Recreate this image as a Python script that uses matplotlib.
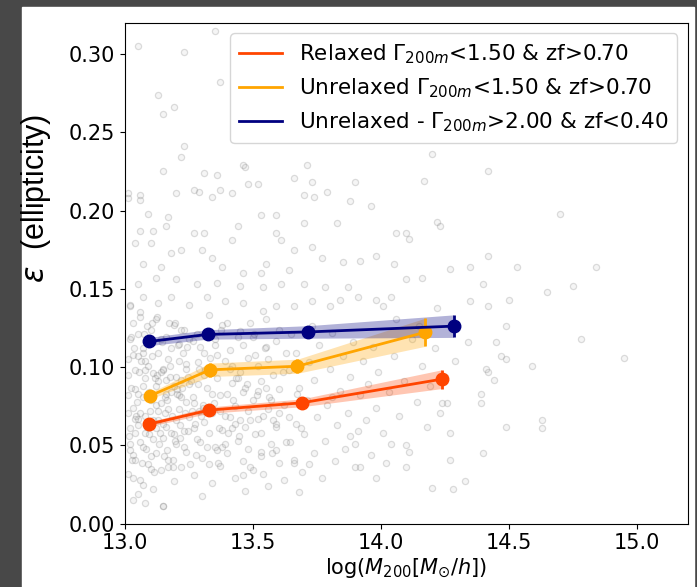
import matplotlib
matplotlib.use('Agg')
import matplotlib.pyplot as plt
import matplotlib.patches
import numpy as np

# binned medians, log(M200) vs ellipticity
relaxed_x = [13.093, 13.330, 13.690, 14.237]
relaxed_y = [0.0636, 0.0726, 0.0772, 0.0923]
relaxed_err = [0.0015, 0.002, 0.0025, 0.006]

unrel_x = [13.098, 13.332, 13.674, 14.173]
unrel_y = [0.0817, 0.0983, 0.1006, 0.1223]
unrel_err = [0.002, 0.0043, 0.0045, 0.009]

unrel2_x = [13.095, 13.323, 13.716, 14.284]
unrel2_y = [0.1164, 0.1209, 0.1225, 0.1262]
unrel2_err = [0.0026, 0.003, 0.004, 0.0072]

labels = [r'Relaxed $\Gamma_{200m}$<1.50 & zf>0.70',
          r'Unrelaxed $\Gamma_{200m}$<1.50 & zf>0.70',
          r'Unrelaxed - $\Gamma_{200m}$>2.00 & zf<0.40']

# background halos (approximate)
halo_x = [13.01, 13.02, 13.03, 13.01, 13.02, 13.04, 13.05, 13.04, 13.05, 13.03,
          13.06, 13.07, 13.06, 13.08, 13.07, 13.06, 13.09, 13.08, 13.10, 13.09,
          13.10, 13.11, 13.12, 13.11, 13.12, 13.13, 13.12, 13.14, 13.15, 13.14,
          13.15, 13.16, 13.17, 13.16, 13.18, 13.17, 13.19, 13.19, 13.20, 13.21,
          13.20, 13.21, 13.22, 13.23, 13.22, 13.24, 13.23, 13.24, 13.25, 13.25,
          13.02, 13.03, 13.05, 13.08, 13.09, 13.11, 13.13, 13.14, 13.16, 13.18,
          13.01, 13.04, 13.06, 13.07, 13.10, 13.13, 13.15, 13.18, 13.20, 13.22,
          13.03, 13.05, 13.08, 13.12, 13.17, 13.19, 13.21, 13.24, 13.02, 13.07,
          13.03, 13.08, 13.15, 13.05,
          13.27, 13.28, 13.27, 13.29, 13.28, 13.30, 13.31, 13.32, 13.31, 13.33,
          13.34, 13.35, 13.34, 13.36, 13.35, 13.37, 13.38, 13.37, 13.39, 13.38,
          13.40, 13.41, 13.42, 13.41, 13.43, 13.44, 13.43, 13.45, 13.44, 13.46,
          13.47, 13.46, 13.48, 13.49, 13.50, 13.51, 13.50, 13.52, 13.53, 13.54,
          13.53, 13.55, 13.56, 13.57, 13.56, 13.58, 13.59, 13.60, 13.59, 13.60,
          13.29, 13.33, 13.36, 13.40, 13.45, 13.48, 13.52, 13.55, 13.30, 13.47,
          13.62, 13.63, 13.62, 13.64, 13.65, 13.66, 13.67, 13.68, 13.67, 13.69,
          13.70, 13.71, 13.72, 13.73, 13.74, 13.75, 13.74, 13.76, 13.77, 13.78,
          13.79, 13.80, 13.81, 13.82, 13.83, 13.84, 13.85, 13.86, 13.87, 13.88,
          13.89, 13.90, 13.91, 13.92, 13.93, 13.94, 13.95, 13.96, 13.97, 13.98,
          13.99, 13.64, 13.72, 13.81, 13.88,
          14.01, 14.03, 14.05, 14.07, 14.09, 14.11, 14.12, 14.14, 14.16, 14.18,
          14.19, 14.21, 14.23, 14.25, 14.27, 14.29, 14.06, 14.15, 14.22, 14.02,
          14.70, 14.84, 14.75, 14.65, 14.78, 14.95, 14.59, 14.63, 14.63, 14.49,
          14.53, 14.42, 14.42, 14.40, 14.49, 14.33, 14.28, 14.20, 13.68, 13.15,
          14.27, 14.20, 14.17, 14.45, 14.47, 14.41, 14.42, 14.44, 14.39, 14.39,
          14.34, 14.35, 14.50, 14.42, 14.49, 14.24, 14.26, 14.10, 13.98, 13.92,
          13.90, 14.04, 14.10, 14.23, 14.22, 14.27, 14.35, 14.40, 14.16, 14.10,
          14.05, 14.06, 14.10, 14.11, 13.96, 13.88, 13.90, 13.79, 13.71, 13.66,
          13.73, 13.74, 13.70, 13.83, 13.70, 13.59, 13.61, 13.73, 13.66, 13.53,
          13.59, 13.52, 13.48, 13.46, 13.42, 13.37, 13.36, 13.22, 13.15, 13.20,
          13.29, 13.34, 13.06, 13.01, 13.09, 13.17, 13.16, 13.06, 13.11, 13.27,
          13.31, 13.44, 13.42, 13.30, 13.22, 13.18, 13.04, 13.10, 13.07, 13.14,
          13.34, 13.38, 13.46, 13.53, 13.55, 13.64, 13.77, 13.85, 13.92, 13.98,
          13.87, 13.78, 13.70, 13.61, 13.54, 13.45, 13.36, 13.28, 13.20, 13.12,
          13.05, 13.98, 14.04, 14.01, 13.91, 13.84, 13.80, 13.73, 13.66, 13.59,
          13.54, 13.46, 13.39, 13.32, 13.25, 13.18, 13.13, 13.07, 13.02,
          13.05, 13.23, 13.35, 13.13, 13.19, 13.37, 13.47, 13.23, 13.06, 13.01,
          13.31, 13.27, 13.15,
          13.015, 13.025, 13.035, 13.045, 13.055, 13.065, 13.075, 13.085, 13.095, 13.105,
          13.115, 13.125, 13.135, 13.145, 13.155, 13.165, 13.175, 13.185, 13.195, 13.205,
          13.215, 13.225, 13.235, 13.245, 13.255, 13.265, 13.275, 13.285, 13.295, 13.305,
          13.012, 13.028, 13.041, 13.057, 13.069, 13.083, 13.097, 13.108, 13.121, 13.139,
          13.152, 13.163, 13.177, 13.191, 13.204, 13.218, 13.229, 13.242, 13.258, 13.271,
          13.284, 13.297, 13.031, 13.064, 13.093, 13.126, 13.158, 13.187, 13.213, 13.246,
          13.31, 13.33, 13.35, 13.37, 13.39, 13.41, 13.43, 13.45, 13.47, 13.49,
          13.51, 13.53, 13.55, 13.57, 13.59, 13.32, 13.34, 13.36, 13.38, 13.40,
          13.42, 13.44, 13.46, 13.48, 13.50, 13.52, 13.54, 13.56, 13.58, 13.60,
          13.018, 13.047, 13.072, 13.101, 13.128, 13.149, 13.171, 13.196, 13.223, 13.251,
          13.279, 13.306, 13.334, 13.362, 13.391, 13.419, 13.447, 13.476, 13.503, 13.532,
          13.561, 13.589, 13.618, 13.646, 13.674,
          13.022, 13.051, 13.079, 13.104, 13.133, 13.161, 13.189, 13.214, 13.238, 13.266,
          13.293, 13.321, 13.349, 13.377, 13.404, 13.432, 13.461, 13.489, 13.517, 13.546,
          13.574, 13.603, 13.631, 13.659, 13.688,
          13.011, 13.039, 13.088, 13.117, 13.168, 13.209, 13.262, 13.313, 13.366, 13.424]
halo_y = [0.032, 0.051, 0.074, 0.095, 0.118, 0.041, 0.063, 0.086, 0.107, 0.128,
          0.028, 0.049, 0.071, 0.093, 0.112, 0.135, 0.038, 0.058, 0.079, 0.101,
          0.124, 0.022, 0.045, 0.066, 0.088, 0.109, 0.131, 0.034, 0.055, 0.077,
          0.098, 0.119, 0.041, 0.062, 0.084, 0.105, 0.127, 0.027, 0.051, 0.073,
          0.094, 0.115, 0.036, 0.059, 0.081, 0.102, 0.124, 0.046, 0.068, 0.089,
          0.061, 0.108, 0.083, 0.069, 0.118, 0.054, 0.072, 0.097, 0.083, 0.058,
          0.082, 0.098, 0.052, 0.081, 0.043, 0.091, 0.064, 0.112, 0.066, 0.092,
          0.044, 0.121, 0.104, 0.076, 0.073, 0.088, 0.104, 0.078, 0.140, 0.025,
          0.015, 0.013, 0.011, 0.019,
          0.031, 0.054, 0.077, 0.099, 0.121, 0.042, 0.065, 0.087, 0.109, 0.133,
          0.026, 0.049, 0.071, 0.093, 0.114, 0.037, 0.060, 0.082, 0.104, 0.127,
          0.045, 0.068, 0.090, 0.111, 0.029, 0.053, 0.075, 0.097, 0.119, 0.040,
          0.062, 0.084, 0.106, 0.128, 0.034, 0.057, 0.079, 0.101, 0.046, 0.069,
          0.091, 0.113, 0.024, 0.051, 0.073, 0.095, 0.117, 0.039, 0.062, 0.086,
          0.072, 0.058, 0.047, 0.083, 0.066, 0.048, 0.067, 0.087, 0.018, 0.021,
          0.028, 0.052, 0.076, 0.098, 0.121, 0.041, 0.064, 0.087, 0.109, 0.033,
          0.057, 0.079, 0.103, 0.126, 0.045, 0.068, 0.092, 0.114, 0.029, 0.053,
          0.076, 0.099, 0.122, 0.040, 0.063, 0.085, 0.107, 0.048, 0.071, 0.094,
          0.116, 0.036, 0.059, 0.082, 0.104, 0.066, 0.089, 0.044, 0.113, 0.074,
          0.097, 0.068, 0.038, 0.081, 0.056,
          0.058, 0.084, 0.107, 0.069, 0.091, 0.046, 0.118, 0.078, 0.101, 0.062,
          0.088, 0.112, 0.071, 0.094, 0.058, 0.104, 0.131, 0.126, 0.138, 0.039,
          0.198, 0.164, 0.152, 0.148, 0.118, 0.106, 0.101, 0.066, 0.061, 0.126,
          0.164, 0.225, 0.171, 0.045, 0.062, 0.027, 0.022, 0.023, 0.020, 0.011,
          0.041, 0.236, 0.219, 0.116, 0.107, 0.099, 0.097, 0.092, 0.077, 0.083,
          0.116, 0.142, 0.143, 0.139, 0.105, 0.077, 0.077, 0.036, 0.029, 0.036,
          0.051, 0.051, 0.050, 0.190, 0.193, 0.163, 0.164, 0.153, 0.157, 0.156,
          0.166, 0.186, 0.186, 0.182, 0.203, 0.206, 0.218, 0.212, 0.229, 0.221,
          0.218, 0.209, 0.210, 0.192, 0.192, 0.186, 0.181, 0.177, 0.175, 0.197,
          0.197, 0.217, 0.217, 0.229, 0.211, 0.213, 0.223, 0.234, 0.225, 0.211,
          0.212, 0.209, 0.207, 0.208, 0.198, 0.196, 0.190, 0.187, 0.187, 0.186,
          0.186, 0.190, 0.181, 0.175, 0.175, 0.173, 0.179, 0.179, 0.166, 0.164,
          0.170, 0.164, 0.160, 0.160, 0.166, 0.162, 0.170, 0.167, 0.168, 0.171,
          0.151, 0.151, 0.153, 0.153, 0.151, 0.152, 0.154, 0.153, 0.156, 0.157,
          0.153, 0.143, 0.145, 0.139, 0.145, 0.143, 0.139, 0.142, 0.139, 0.139,
          0.136, 0.141, 0.142, 0.145, 0.140, 0.145, 0.141, 0.145, 0.139,
          0.305, 0.301, 0.315, 0.274, 0.266, 0.282, 0.228, 0.241, 0.210, 0.211,
          0.224, 0.213, 0.262,
          0.056, 0.087, 0.112, 0.069, 0.097, 0.039, 0.121, 0.062, 0.084, 0.107,
          0.033, 0.095, 0.058, 0.116, 0.081, 0.047, 0.101, 0.069, 0.128, 0.086,
          0.055, 0.109, 0.071, 0.094, 0.038, 0.117, 0.064, 0.089, 0.052, 0.076,
          0.105, 0.041, 0.067, 0.132, 0.088, 0.048, 0.072, 0.096, 0.061, 0.118,
          0.043, 0.079, 0.094, 0.057, 0.083, 0.124, 0.049, 0.113, 0.091, 0.061,
          0.103, 0.069, 0.029, 0.104, 0.057, 0.132, 0.071, 0.036, 0.082, 0.059,
          0.095, 0.038, 0.118, 0.072, 0.051, 0.099, 0.064, 0.123, 0.087, 0.036,
          0.108, 0.058, 0.131, 0.079, 0.047, 0.121, 0.083, 0.108, 0.049, 0.128,
          0.061, 0.093, 0.114, 0.072, 0.119, 0.085, 0.032, 0.105, 0.066, 0.124,
          0.047, 0.078, 0.109, 0.035, 0.066, 0.099, 0.128, 0.053, 0.087, 0.118,
          0.044, 0.074, 0.106, 0.039, 0.069, 0.101, 0.056, 0.089, 0.121, 0.043,
          0.081, 0.064, 0.097, 0.052, 0.083,
          0.119, 0.067, 0.098, 0.128, 0.051, 0.092, 0.041, 0.063, 0.099, 0.081,
          0.113, 0.049, 0.077, 0.124, 0.058, 0.093, 0.031, 0.066, 0.082, 0.112,
          0.045, 0.071, 0.109, 0.039, 0.061,
          0.071, 0.058, 0.126, 0.093, 0.036, 0.114, 0.072, 0.098, 0.061, 0.079]

colors = ['#ff4500', '#ffa500', '#000080']

fig = plt.figure(figsize=(6.97, 5.87), dpi=100, facecolor='#484848')
# white page area, dark frame around it
fig.patches.append(matplotlib.patches.Rectangle((22/697, 0), (694-22)/697, (587-7)/587,
                                                transform=fig.transFigure, color='white', zorder=-1))
ax = fig.add_axes([0.1793, 0.1078, 0.8078, 0.8535])

ax.scatter(halo_x, halo_y, s=20, facecolors=(0.5, 0.5, 0.5, 0.08),
           edgecolors=(0.5, 0.5, 0.5, 0.26), linewidths=0.9, zorder=1)

series = [(relaxed_x, relaxed_y, relaxed_err),
          (unrel_x, unrel_y, unrel_err),
          (unrel2_x, unrel2_y, unrel2_err)]
for (x, y, e), c, lab in zip(series, colors, labels):
    x = np.array(x); y = np.array(y); e = np.array(e)
    ax.fill_between(x, y - e, y + e, color=c, alpha=0.3, lw=0, zorder=2)
    ax.errorbar(x, y, yerr=e, color=c, marker='o', ms=9, lw=2, elinewidth=2, capsize=0, zorder=3)
    ax.plot([], [], color=c, lw=2, label=lab)

ax.set_xlim(13.0, 15.2)
ax.set_ylim(0.0, 0.32)
ax.set_xticks([13.0, 13.5, 14.0, 14.5, 15.0])
ax.set_yticks([0.0, 0.05, 0.10, 0.15, 0.20, 0.25, 0.30])
ax.set_yticklabels(['%.2f' % v for v in ax.get_yticks()])
ax.tick_params(labelsize=15)

ax.set_xlabel(r'log($M_{200}[M_{\odot}/h]$)', fontsize=15, labelpad=2)
ax.set_ylabel(r'$\epsilon$  (ellipticity)', fontsize=22, fontfamily='Liberation Sans')
ax.yaxis.set_label_coords(-0.128, 0.65)

ax.legend(loc='upper right', fontsize=15.5)

fig.savefig('out.png', dpi=100, facecolor=fig.get_facecolor())
